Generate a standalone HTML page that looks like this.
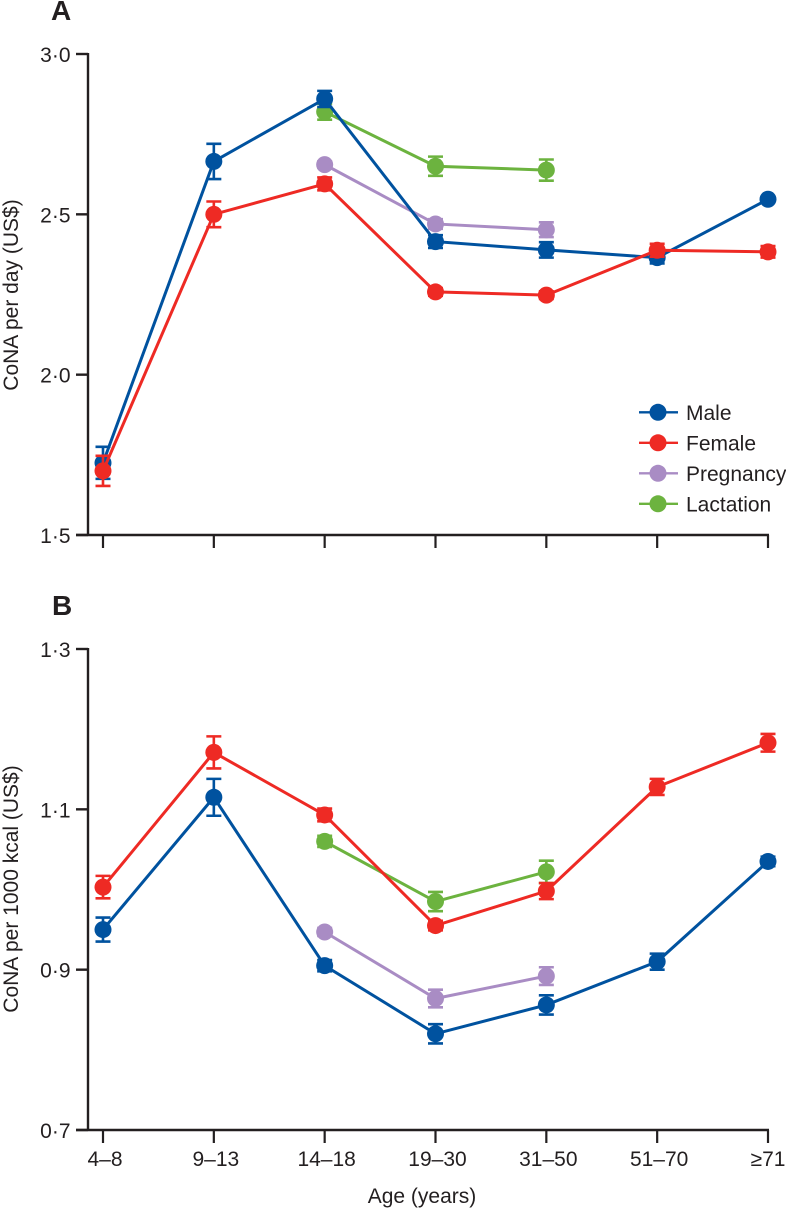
<!DOCTYPE html>
<html lang="en">
<head>
<meta charset="utf-8">
<title>CoNA by age group</title>
<style>
html,body{margin:0;padding:0;background:#fff;}
svg{display:block;}
text{font-family:"Liberation Sans",sans-serif;fill:#231f20;}
</style>
</head>
<body>
<svg id="chart" xmlns="http://www.w3.org/2000/svg" width="786" height="1209" viewBox="0 0 786 1209">
  <text x="51" y="20" font-size="28" font-weight="bold">A</text>
  <text x="52" y="615" font-size="28" font-weight="bold">B</text>
  <text transform="translate(18,295) rotate(-90)" text-anchor="middle" font-size="21">CoNA per day (US$)</text>
  <text transform="translate(18,889) rotate(-90)" text-anchor="middle" font-size="21">CoNA per 1000 kcal (US$)</text>
  <text x="422" y="1203" text-anchor="middle" font-size="21">Age (years)</text>
</svg>
<script>
var categories = ['4–8', '9–13', '14–18', '19–30', '31–50', '51–70', '≥71'];
var seriesNames = ['Lactation', 'Pregnancy', 'Male', 'Female'];
var legendNames = ['Male', 'Female', 'Pregnancy', 'Lactation'];

var panelATicks = [1.5, 2.0, 2.5, 3.0];
var panelATickLabels = ['1·5', '2·0', '2·5', '3·0'];
var panelBTicks = [0.7, 0.9, 1.1, 1.3];
var panelBTickLabels = ['0·7', '0·9', '1·1', '1·3'];

var maleA = [1.725, 2.665, 2.86, 2.415, 2.389, 2.365, 2.547];
var maleAErr = [0.05, 0.055, 0.025, 0.02, 0.024, 0.018, 0.008];
var femaleA = [1.70, 2.50, 2.595, 2.258, 2.248, 2.388, 2.383];
var femaleAErr = [0.047, 0.04, 0.02, 0.012, 0.012, 0.02, 0.018];
var pregnancyA = [null, null, 2.655, 2.47, 2.452, null, null];
var pregnancyAErr = [null, null, 0.01, 0.015, 0.023, null, null];
var lactationA = [null, null, 2.82, 2.65, 2.638, null, null];
var lactationAErr = [null, null, 0.025, 0.03, 0.033, null, null];

var maleB = [0.95, 1.115, 0.905, 0.82, 0.856, 0.91, 1.035];
var maleBErr = [0.015, 0.023, 0.007, 0.012, 0.012, 0.01, 0.006];
var femaleB = [1.003, 1.171, 1.093, 0.955, 0.998, 1.128, 1.183];
var femaleBErr = [0.014, 0.02, 0.008, 0.006, 0.01, 0.01, 0.011];
var pregnancyB = [null, null, 0.947, 0.864, 0.892, null, null];
var pregnancyBErr = [null, null, 0.005, 0.011, 0.011, null, null];
var lactationB = [null, null, 1.06, 0.985, 1.022, null, null];
var lactationBErr = [null, null, 0.007, 0.012, 0.014, null, null];

var colors = {Male: '#00529f', Female: '#ee2a24', Pregnancy: '#a98cc4', Lactation: '#6cb33f'};
var INK = '#231f20';
var NS = 'http://www.w3.org/2000/svg';
var svg = document.getElementById('chart');

function xScale(i) { return 103 + i * (768 - 103) / (categories.length - 1); }

function make(tag, attrs, parent) {
  var el = document.createElementNS(NS, tag);
  for (var k in attrs) { el.setAttribute(k, attrs[k]); }
  (parent || svg).appendChild(el);
  return el;
}

function drawAxes(panel, yScale, ticks, labels, showLabels) {
  var g = make('g', {});
  
  
  var top = yScale(ticks[ticks.length - 1]);
  var bottom = yScale(ticks[0]);
  var spine = make('line', {x1: 88, x2: 88, y1: top - 1, y2: bottom + 1, stroke: INK, 'stroke-width': 2.4}, g);
  
  
  var base = make('line', {x1: 76, x2: 769, y1: bottom, y2: bottom, stroke: INK, 'stroke-width': 2.4}, g);
  
  
  ticks.forEach(function (t, i) {
    var y = yScale(t);
    var tick = make('line', {x1: 76, x2: 88, y1: y, y2: y, stroke: INK, 'stroke-width': 2.4}, g);
    
    
    var lab = make('text', {x: 70.5, y: y + 8, 'text-anchor': 'end', 'font-size': 21}, g);
    
    
    lab.textContent = labels[i];
  });
  categories.forEach(function (c, i) {
    var x = xScale(i);
    var tick = make('line', {x1: x, x2: x, y1: bottom, y2: bottom + 13, stroke: INK, 'stroke-width': 2.2}, g);
    
    
    if (showLabels) {
      var shift = i === categories.length - 1 ? 0 : 2;
      var lab = make('text', {x: x + shift, y: bottom + 36, 'text-anchor': 'middle', 'font-size': 21}, g);
      
      
      lab.textContent = c;
    }
  });
}

function drawSeries(panel, name, values, errs, yScale) {
  var color = colors[name];
  var g = make('g', {});
  
  
  var pts = [];
  values.forEach(function (v, i) { if (v !== null) { pts.push(xScale(i) + ',' + yScale(v)); } });
  var line = make('polyline', {points: pts.join(' '), fill: 'none', stroke: color, 'stroke-width': 3}, g);
  
  
  values.forEach(function (v, i) {
    if (v === null) { return; }
    var x = xScale(i);
    var hi = yScale(v + errs[i]);
    var lo = yScale(v - errs[i]);
    var err = make('path', {
      d: 'M' + (x - 7.5) + ' ' + hi + 'H' + (x + 7.5) + 'M' + x + ' ' + hi + 'V' + lo + 'M' + (x - 7.5) + ' ' + lo + 'H' + (x + 7.5),
      fill: 'none', stroke: color, 'stroke-width': 2.6
    }, g);
    
    
    var dot = make('circle', {cx: x, cy: yScale(v), r: 8.5, fill: color}, g);
    
    
  });
}

function yA(v) { return 535 - (v - 1.5) * (535 - 54) / 1.5; }
function yB(v) { return 1130 - (v - 0.7) * (1130 - 649) / 0.6; }

drawAxes('panel-a', yA, panelATicks, panelATickLabels, false);
drawAxes('panel-b', yB, panelBTicks, panelBTickLabels, true);

var dataA = {Male: [maleA, maleAErr], Female: [femaleA, femaleAErr], Pregnancy: [pregnancyA, pregnancyAErr], Lactation: [lactationA, lactationAErr]};
var dataB = {Male: [maleB, maleBErr], Female: [femaleB, femaleBErr], Pregnancy: [pregnancyB, pregnancyBErr], Lactation: [lactationB, lactationBErr]};
seriesNames.forEach(function (n) { drawSeries('panel-a', n, dataA[n][0], dataA[n][1], yA); });
seriesNames.forEach(function (n) { drawSeries('panel-b', n, dataB[n][0], dataB[n][1], yB); });

legendNames.forEach(function (n, i) {
  var y = 412.3 + i * 30.5;
  var g = make('g', {});
  
  
  make('line', {x1: 639, x2: 678, y1: y, y2: y, stroke: colors[n], 'stroke-width': 2.4}, g);
  make('circle', {cx: 658, cy: y, r: 8.5, fill: colors[n]}, g);
  var t = make('text', {x: 686, y: y + 7.5, 'font-size': 21}, g);
  t.textContent = n;
});
</script>
</body>
</html>
